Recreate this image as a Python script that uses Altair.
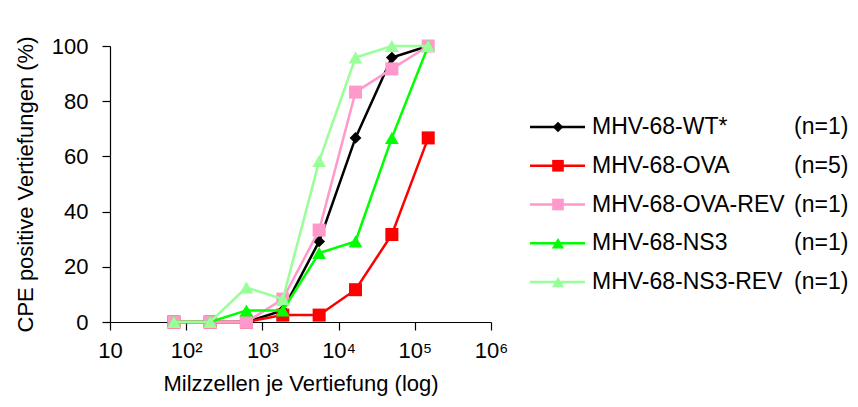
import altair as alt
import pandas as pd

# cells per well (3-fold dilution series)
cells = [69, 206, 617, 1852, 5556, 16667, 50000, 150000]

series_names = ["MHV-68-WT*", "MHV-68-OVA", "MHV-68-OVA-REV", "MHV-68-NS3", "MHV-68-NS3-REV"]
series_n = ["(n=1)", "(n=5)", "(n=1)", "(n=1)", "(n=1)"]

wt = [0, 0, 0, 4.2, 29.2, 66.7, 95.8, 100]
ova = [0, 0, 0, 2.5, 2.5, 11.7, 31.7, 66.7]
ova_rev = [0, 0, 0, 8.3, 33.3, 83.3, 91.7, 100]
ns3 = [0, 0, 4.2, 4.2, 25.0, 29.2, 66.7, 100]
ns3_rev = [0, 0, 12.5, 8.3, 58.3, 95.8, 100, 100]
values = [wt, ova, ova_rev, ns3, ns3_rev]

x_ticks = [10, 100, 1000, 10000, 100000, 1000000]
y_ticks = [0, 20, 40, 60, 80, 100]

colors = ["#000000", "#FF0000", "#FF99CC", "#00FF00", "#99FF99"]
shapes = ["diamond", "square", "square", "triangle-up", "triangle-up"]
sizes = [140, 170, 170, 190, 190]

FONT = "Liberation Sans"

rows = []
for name, vals in zip(series_names, values):
    for c, v in zip(cells, vals):
        rows.append({"series": name, "cells": c, "pct": v})
df = pd.DataFrame(rows)

leg = pd.DataFrame({
    "series": series_names,
    "n": series_n,
    "row": list(range(len(series_names))),
})

label_expr = (
    "datum.value == 10 ? '10' : datum.value == 100 ? '10\u00b2' : "
    "datum.value == 1000 ? '10\u00b3' : datum.value == 10000 ? '10\u2074' : "
    "datum.value == 100000 ? '10\u2075' : '10\u2076'"
)

x_enc = alt.X(
    "cells:Q",
    scale=alt.Scale(type="log", domain=[10, 1000000]),
    axis=alt.Axis(
        values=x_ticks, labelExpr=label_expr, title="Milzzellen je Vertiefung (log)",
        grid=False, tickSize=8, labelPadding=10, titlePadding=12,
        labelFontSize=22, titleFontSize=22, labelFlush=False,
    ),
)
y_enc = alt.Y(
    "pct:Q",
    scale=alt.Scale(domain=[0, 100]),
    axis=alt.Axis(
        values=y_ticks, title="CPE positive Vertiefungen (%)", grid=False,
        tickSize=8, labelPadding=14, titlePadding=14,
        labelFontSize=22, titleFontSize=22,
    ),
)

main_layers = []
for name, col, shp, sz in zip(series_names, colors, shapes, sizes):
    base = alt.Chart(df).transform_filter(alt.datum.series == name)
    main_layers.append(base.mark_line(color=col, strokeWidth=2.5).encode(x=x_enc, y=y_enc))
    main_layers.append(
        base.mark_point(filled=True, shape=shp, size=sz, color=col, opacity=1).encode(x=x_enc, y=y_enc)
    )
main = alt.layer(*main_layers)

leg_y = alt.Y("row:Q", scale=alt.Scale(domain=[0, 4], range=[81, 236]), axis=None)
leg_layers = []
for name, col, shp, sz in zip(series_names, colors, shapes, sizes):
    b = alt.Chart(leg).transform_filter(alt.datum.series == name)
    leg_layers.append(
        b.mark_rule(color=col, strokeWidth=2.5).encode(x=alt.value(420), x2=alt.value(475), y=leg_y)
    )
    leg_layers.append(
        b.mark_point(filled=True, shape=shp, size=sz * 0.8, color=col, opacity=1).encode(x=alt.value(448), y=leg_y)
    )
leg_layers.append(
    alt.Chart(leg).mark_text(align="left", baseline="middle", fontSize=23, font=FONT, color="black")
    .encode(x=alt.value(482), y=leg_y, text="series:N")
)
leg_layers.append(
    alt.Chart(leg).mark_text(align="left", baseline="middle", fontSize=23, font=FONT, color="black")
    .encode(x=alt.value(684), y=leg_y, text="n:N")
)
legend = alt.layer(*leg_layers)

chart = (
    alt.layer(main, legend)
    .resolve_scale(x="independent", y="independent")
    .properties(
        width=381, height=276,
        autosize=alt.AutoSizeParams(type="none"),
        padding={"left": 102, "top": 38, "right": 359, "bottom": 77},
    )
    .configure_view(stroke=None)
    .configure_axis(
        domainColor="black", tickColor="black", labelColor="black", titleColor="black",
        labelFont=FONT, titleFont=FONT, titleFontWeight="normal", domainWidth=1.2, tickWidth=1.2,
    )
)

chart.save("out.html", embed_options={"renderer": "svg", "actions": False})
